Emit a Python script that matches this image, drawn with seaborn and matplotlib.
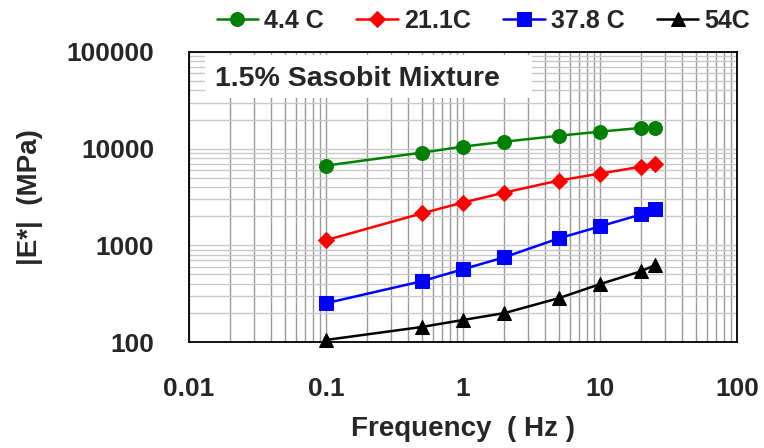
import matplotlib
matplotlib.use("Agg")
import matplotlib.pyplot as plt
import seaborn as sns
import pandas as pd
from matplotlib.ticker import LogLocator, FixedLocator, NullFormatter
from matplotlib.patches import Rectangle

freq = [0.1, 0.5, 1, 2, 5, 10, 20, 25]
e_44 = [6680, 9100, 10500, 11800, 13600, 15000, 16400, 16400]
e_211 = [1130, 2140, 2770, 3510, 4680, 5520, 6520, 7000]
e_378 = [252, 425, 566, 752, 1180, 1570, 2090, 2350]
e_54 = [105, 143, 169, 199, 284, 397, 540, 622]
labels = ["4.4 C", "21.1C", "37.8 C", "54C"]
colors = ["#008000", "#FF0000", "#0000FF", "#000000"]
markers = ["o", "D", "s", "^"]
xticks = [0.01, 0.1, 1, 10, 100]
xticklabels = ["0.01", "0.1", "1", "10", "100"]
yticks = [100, 1000, 10000, 100000]
yticklabels = ["100", "1000", "10000", "100000"]

rows = []
for lab, vals in zip(labels, [e_44, e_211, e_378, e_54]):
    for f, v in zip(freq, vals):
        rows.append({"Frequency": f, "E": v, "Temp": lab})
df = pd.DataFrame(rows)

sns.set_style("white")
plt.rcParams["font.family"] = ["Liberation Sans", "DejaVu Sans"]
plt.rcParams["font.weight"] = "bold"

fig = plt.figure(figsize=(7.64, 4.48), dpi=100)
ax = fig.add_axes([189/764, 1-342/448, (737-189)/764, (342-52)/448])

msize = {"o": 10, "D": 8, "s": 10, "^": 10}
for lab, col, mk in zip(labels, colors, markers):
    sub = df[df["Temp"] == lab]
    sns.lineplot(data=sub, x="Frequency", y="E", ax=ax, color=col, marker=mk,
                 markersize=msize[mk], markeredgecolor=col,
                 linewidth=1.8, label=lab, clip_on=False, zorder=3)

ax.set_xscale("log")
ax.set_yscale("log")
ax.set_xlim(0.01, 100)
ax.set_ylim(100, 100000)
ax.xaxis.set_major_locator(FixedLocator(xticks))
ax.set_xticklabels(xticklabels)
ax.yaxis.set_major_locator(FixedLocator(yticks))
ax.set_yticklabels(yticklabels)
ax.xaxis.set_minor_locator(LogLocator(base=10, subs=range(2, 10)))
ax.yaxis.set_minor_locator(LogLocator(base=10, subs=range(2, 10)))
ax.xaxis.set_minor_formatter(NullFormatter())
ax.yaxis.set_minor_formatter(NullFormatter())

ax.xaxis.grid(True, which="both", color="#9a9a9a", linewidth=1.0)
ax.yaxis.grid(True, which="both", color="#c8c8c8", linewidth=1.0)
ax.set_axisbelow(True)
for s in ax.spines.values():
    s.set_color("black")
    s.set_linewidth(1.3)

ax.tick_params(axis="both", which="major", labelsize=19, direction="in",
               length=7, width=1, color="black")
ax.tick_params(axis="x", which="major", pad=25)
ax.tick_params(axis="y", which="major", pad=25)
ax.tick_params(axis="x", which="minor", direction="in", length=6, width=1,
               color="black")
ax.tick_params(axis="y", which="minor", length=0)
for t in ax.get_xticklabels() + ax.get_yticklabels():
    t.set_fontweight("bold")

ax.set_xlabel("Frequency  ( Hz )", fontsize=20, fontweight="bold", labelpad=11)
ax.set_ylabel("|E*|  (MPa)", fontsize=20, fontweight="bold")
ax.yaxis.set_label_coords((43 - 189) / 548, 0.5)

ax.add_patch(Rectangle((16/548, 1-46/290), (532-205)/548, 43/290,
                       transform=ax.transAxes, facecolor="white",
                       edgecolor="none", zorder=2.5))
ax.text(26/548, 1-27/290, "1.5% Sasobit Mixture", transform=ax.transAxes,
        fontsize=20.5, fontweight="bold", va="center", ha="left", zorder=4)

ax.legend(loc="center", bbox_to_anchor=((483.5 - 189)/548, 1+31/290), ncol=4,
          frameon=False, prop={"weight": "bold", "size": 18},
          handlelength=1.65, columnspacing=1.3, handletextpad=0.25,
          borderaxespad=0, borderpad=0)

fig.savefig("out.png", dpi=100)
